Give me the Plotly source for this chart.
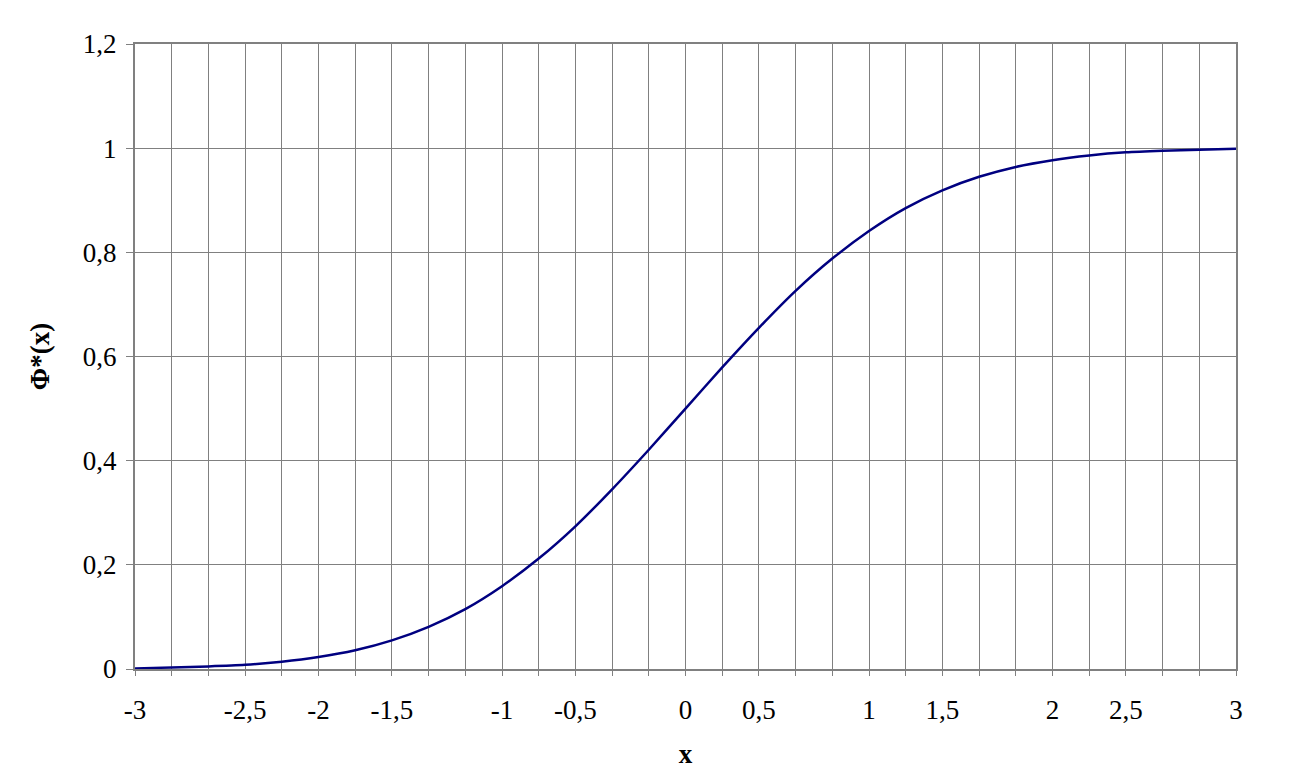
import plotly.graph_objects as go

# x values (category points, step 0.2)
x_vals = [-3.0, -2.8, -2.6, -2.4, -2.2, -2.0, -1.8, -1.6, -1.4, -1.2, -1.0,
          -0.8, -0.6, -0.4, -0.2, 0.0, 0.2, 0.4, 0.6, 0.8, 1.0,
          1.2, 1.4, 1.6, 1.8, 2.0, 2.2, 2.4, 2.6, 2.8, 3.0]
# curve values
phi_vals = [0.001, 0.003, 0.005, 0.008, 0.014, 0.023, 0.036, 0.055, 0.081, 0.115, 0.159,
            0.212, 0.274, 0.345, 0.421, 0.500, 0.579, 0.655, 0.726, 0.788, 0.841,
            0.885, 0.919, 0.945, 0.964, 0.977, 0.986, 0.992, 0.995, 0.997, 0.999]

# tick labels as shown on the axis (placed on category points)
x_tick_pos = [-3.0, -2.4, -2.0, -1.6, -1.0, -0.6, 0.0, 0.4, 1.0, 1.4, 2.0, 2.4, 3.0]
x_tick_text = ["-3", "-2,5", "-2", "-1,5", "-1", "-0,5", "0", "0,5", "1", "1,5", "2", "2,5", "3"]
y_tick_pos = [0, 0.2, 0.4, 0.6, 0.8, 1.0, 1.2]
y_tick_text = ["0", "0,2", "0,4", "0,6", "0,8", "1", "1,2"]

FONT = "Liberation Serif"
GRID = "#808080"
FS = 27

fig = go.Figure()
# invisible trace to carry the vertical grid axis
fig.add_trace(go.Scatter(x=[-3, 3], y=[None, None], xaxis="x2", showlegend=False, hoverinfo="skip"))
fig.add_trace(go.Scatter(x=x_vals, y=phi_vals, mode="lines",
                         line=dict(color="#000080", width=2.5, shape="spline", smoothing=0.6),
                         showlegend=False, hoverinfo="skip"))

# the page body has an 8px margin, so the figure is offset by 8px
fig.update_layout(
    width=1283, height=769,
    margin=dict(l=127, r=55, t=36, b=108, autoexpand=False),
    paper_bgcolor="white", plot_bgcolor="white",
    font=dict(family=FONT, size=FS, color="black"),
    xaxis=dict(
        range=[-3, 3], tickmode="array", tickvals=x_tick_pos, ticktext=x_tick_text,
        showgrid=False, zeroline=False, automargin=False,
        showline=True, linecolor=GRID, linewidth=2, mirror=True,
        ticks="", tickfont=dict(family=FONT, size=FS),
        title=dict(text="<b>x</b>", font=dict(family=FONT, size=FS), standoff=20),
        ticklabelstandoff=16,
    ),
    xaxis2=dict(
        overlaying="x", matches="x", range=[-3, 3], tickmode="linear", tick0=-3, dtick=0.2,
        showgrid=True, gridcolor=GRID, gridwidth=1, showticklabels=False, automargin=False,
        ticks="outside", ticklen=6, tickcolor=GRID, tickwidth=1, side="bottom",
        zeroline=False, showline=False,
    ),
    yaxis=dict(
        range=[0, 1.2], tickmode="array", tickvals=y_tick_pos, ticktext=y_tick_text,
        showgrid=True, gridcolor=GRID, gridwidth=1, zeroline=False, automargin=False,
        showline=True, linecolor=GRID, linewidth=2, mirror=True,
        ticks="outside", ticklen=7, tickcolor=GRID, tickwidth=1,
        tickfont=dict(family=FONT, size=FS), ticklabelstandoff=4,
        title=dict(text="<b>Φ*(x)</b>", font=dict(family=FONT, size=FS), standoff=25),
    ),
)

fig.write_html("out.html")
